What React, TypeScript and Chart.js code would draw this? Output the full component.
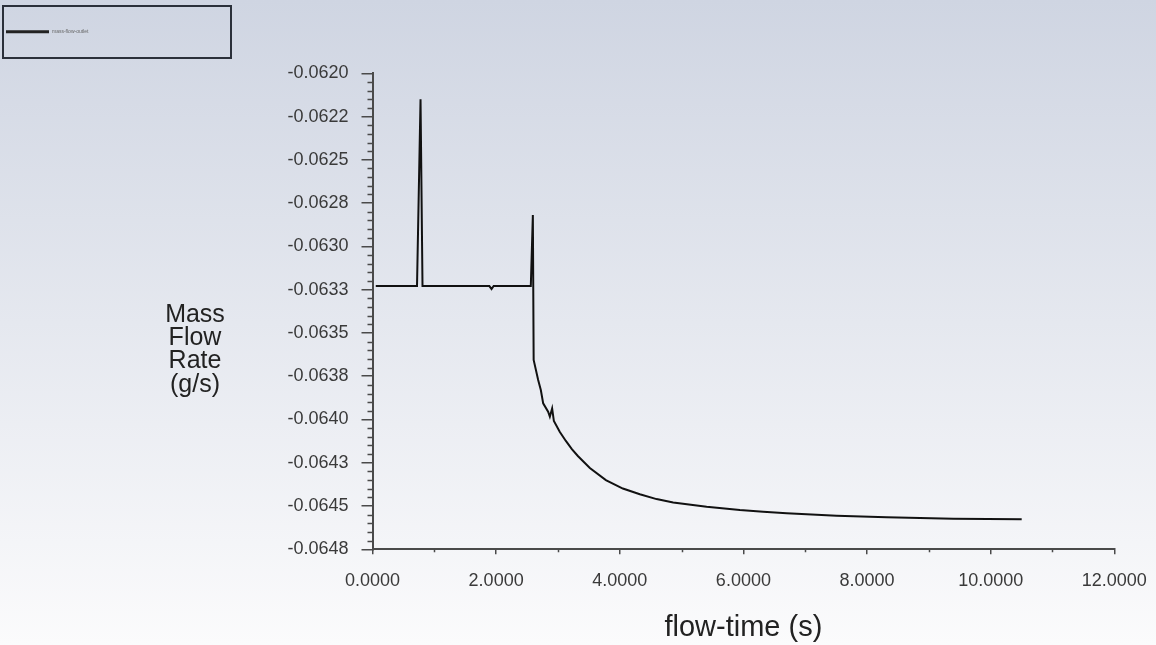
import React, { useEffect, useRef } from "react";
import { Chart, registerables } from "chart.js";

Chart.register(...registerables);

const seriesLabel = "mass-flow-outlet";
const flowTime = [0.053, 0.72, 0.777, 0.809, 1.89, 1.926, 1.96, 2.561, 2.594, 2.607, 2.68, 2.723, 2.761, 2.841, 2.869, 2.906, 2.934, 3.031, 3.128, 3.225, 3.322, 3.516, 3.775, 4.05, 4.325, 4.595, 4.864, 5.405, 5.943, 6.32, 6.699, 7.508, 8.317, 9.395, 10.502];
const massFlow = [-0.063229, -0.063229, -0.06215, -0.063229, -0.063229, -0.063246, -0.063229, -0.063229, -0.062819, -0.063656, -0.063772, -0.06383, -0.063907, -0.063955, -0.063984, -0.063936, -0.064009, -0.064072, -0.064124, -0.064171, -0.064211, -0.06428, -0.06435, -0.064399, -0.064432, -0.06446, -0.064479, -0.064504, -0.064523, -0.064533, -0.064542, -0.064556, -0.064565, -0.064573, -0.064577];

const xTickValues = [0, 2, 4, 6, 8, 10, 12];
const xTickLabels = ["0.0000", "2.0000", "4.0000", "6.0000", "8.0000", "10.0000", "12.0000"];
const yTickValues = [-0.062, -0.06225, -0.0625, -0.06275, -0.063, -0.06325, -0.0635, -0.06375, -0.064, -0.06425, -0.0645, -0.06475];
const yTickLabels = ["-0.0620", "-0.0622", "-0.0625", "-0.0628", "-0.0630", "-0.0633", "-0.0635", "-0.0638", "-0.0640", "-0.0643", "-0.0645", "-0.0648"];
const yTitleLines = ["Mass", "Flow", "Rate", "(g/s)"];
const xTitle = "flow-time (s)";

const FONT = "'Liberation Sans', Arial, sans-serif";
const AXIS = "#4a4a4a";

const decorPlugin = {
  id: "decor",
  beforeDraw(chart: any) {
    const { ctx, width, height } = chart;
    const g = ctx.createLinearGradient(0, 0, 0, height);
    g.addColorStop(0, "#cfd5e2");
    g.addColorStop(1, "#fbfbfc");
    ctx.save();
    ctx.fillStyle = g;
    ctx.fillRect(0, 0, width, height);
    ctx.restore();
  },
  afterDraw(chart: any) {
    const { ctx, chartArea } = chart;
    const xs = chart.scales.x;
    const ys = chart.scales.y;
    ctx.save();
    // minor ticks
    ctx.strokeStyle = AXIS;
    ctx.lineWidth = 1.5;
    ctx.beginPath();
    for (let i = 0; i < yTickValues.length - 1; i++) {
      const a = yTickValues[i];
      const b = yTickValues[i + 1];
      for (let k = 1; k < 5; k++) {
        const py = Math.round(ys.getPixelForValue(a + ((b - a) * k) / 5)) + 0.5;
        ctx.moveTo(chartArea.left - 5, py);
        ctx.lineTo(chartArea.left, py);
      }
    }
    for (let i = 0; i < xTickValues.length - 1; i++) {
      const m = (xTickValues[i] + xTickValues[i + 1]) / 2;
      const px = Math.round(xs.getPixelForValue(m)) + 0.5;
      ctx.moveTo(px, chartArea.bottom);
      ctx.lineTo(px, chartArea.bottom + 3);
    }
    ctx.stroke();

    // y title
    ctx.fillStyle = "#222";
    ctx.font = `25px ${FONT}`;
    ctx.textAlign = "center";
    ctx.textBaseline = "alphabetic";
    const baselines = [321.7, 345, 368.3, 391.5];
    yTitleLines.forEach((t, i) => ctx.fillText(t, 195, baselines[i]));

    // x title
    ctx.font = `29px ${FONT}`;
    ctx.fillText(xTitle, (chartArea.left + chartArea.right) / 2, 636);

    // legend
    ctx.strokeStyle = "#2b303a";
    ctx.lineWidth = 2;
    ctx.strokeRect(3, 6, 228, 52);
    ctx.strokeStyle = "#222";
    ctx.lineWidth = 3;
    ctx.beginPath();
    ctx.moveTo(6, 31.7);
    ctx.lineTo(49, 31.7);
    ctx.stroke();
    ctx.fillStyle = "#666";
    ctx.font = `5px ${FONT}`;
    ctx.textAlign = "left";
    ctx.textBaseline = "middle";
    ctx.fillText(chart.data.datasets[0].label, 52, 32);
    ctx.restore();
  },
};

export default function App() {
  const ref = useRef<HTMLCanvasElement | null>(null);
  useEffect(() => {
    if (!ref.current) return;
    const points = flowTime.map((t, i) => ({ x: t, y: massFlow[i] }));
    const chart = new Chart(ref.current, {
      type: "line",
      data: {
        datasets: [
          {
            label: seriesLabel,
            data: points,
            borderColor: "#111",
            borderWidth: 2,
            pointRadius: 0,
            tension: 0,
            fill: false,
          },
        ],
      },
      options: {
        animation: false,
        responsive: false,
        events: [],
        layout: { padding: { left: 0, right: 41.7, top: 73.3, bottom: 0 } },
        plugins: { legend: { display: false }, tooltip: { enabled: false } },
        scales: {
          x: {
            type: "linear",
            min: 0,
            max: 12,
            afterBuildTicks: (s: any) => {
              s.ticks = xTickValues.map((v) => ({ value: v }));
            },
            afterFit: (s: any) => {
              s.height = 645 - 549.3;
              s.paddingLeft = 0;
              s.paddingRight = 0;
            },
            ticks: {
              autoSkip: false,
              maxRotation: 0,
              padding: 16,
              color: "#3a3a3a",
              font: { family: FONT, size: 18 },
              callback: (v: any) => xTickLabels[xTickValues.indexOf(v)] ?? "",
            },
            grid: { drawOnChartArea: false, drawTicks: true, tickLength: 5, color: AXIS, lineWidth: 1.5 },
            border: { display: true, color: AXIS, width: 2 },
          },
          y: {
            type: "linear",
            min: -0.06475,
            max: -0.062,
            afterBuildTicks: (s: any) => {
              s.ticks = yTickValues.map((v) => ({ value: v }));
            },
            afterFit: (s: any) => {
              s.width = 372.5;
              s.paddingTop = 0;
              s.paddingBottom = 0;
            },
            ticks: {
              autoSkip: false,
              padding: 13,
              color: "#3a3a3a",
              font: { family: FONT, size: 18 },
              callback: (v: any, i: number) => yTickLabels[i] ?? "",
            },
            grid: { drawOnChartArea: false, drawTicks: true, tickLength: 11, color: AXIS, lineWidth: 1.5 },
            border: { display: true, color: AXIS, width: 2 },
          },
        },
      },
      plugins: [decorPlugin],
    });
    return () => chart.destroy();
  }, []);
  return (
    <div style={{ position: "absolute", left: 0, top: 0, width: 1156, height: 645 }}>
      <canvas ref={ref} width={1156} height={645} style={{ display: "block" }} />
    </div>
  );
}
